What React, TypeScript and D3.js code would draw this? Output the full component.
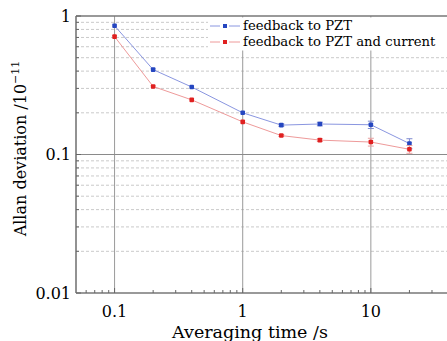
import React, { useEffect, useRef } from 'react';
import * as d3 from 'd3';

const times = [0.1, 0.2, 0.4, 1, 2, 4, 10, 20];
const pztValues = [0.85, 0.41, 0.307, 0.2, 0.163, 0.166, 0.164, 0.12];
const pztErrors = [0, 0, 0, 0, 0.003, 0.005, 0.01, 0.01];
const pztCurrentValues = [0.71, 0.31, 0.248, 0.172, 0.137, 0.127, 0.123, 0.109];
const pztCurrentErrors = [0, 0, 0, 0, 0.002, 0.003, 0.008, 0.007];
const seriesNames = ['feedback to PZT', 'feedback to PZT and current'];
const xTickValues = [0.1, 1, 10];
const xTickLabels = ['0.1', '1', '10'];
const yTickValues = [0.01, 0.1, 1];
const yTickLabels = ['0.01', '0.1', '1'];

const width = 447;
const height = 341;
const margin = { top: 16, right: 0, bottom: 48, left: 76 };
const font = '"DejaVu Serif", serif';

const App = () => {
    const svgRef = useRef(null);

    useEffect(() => {
        const svg = d3.select(svgRef.current);
        svg.selectAll('*').remove();

        const x = d3.scaleLog().domain([0.05, 40]).range([margin.left, 448]);
        const y = d3.scaleLog().domain([0.01, 1]).range([height - margin.bottom, margin.top]);
        const x0 = margin.left, x1 = width + 2;
        const y0 = height - margin.bottom, y1 = margin.top;

        // minor horizontal dashed grid
        const minorY = [];
        [0.01, 0.1].forEach(d => { for (let k = 2; k <= 9; k++) minorY.push(d * k); });
        svg.append('g')
            .selectAll('line')
            .data(minorY)
            .join('line')
            .attr('x1', x0).attr('x2', x1)
            .attr('y1', d => y(d)).attr('y2', d => y(d))
            .attr('stroke', '#cacaca')
            .attr('stroke-width', 1)
            .attr('stroke-dasharray', '3,2');

        // major grid
        svg.append('g')
            .selectAll('line')
            .data(xTickValues)
            .join('line')
            .attr('x1', d => x(d)).attr('x2', d => x(d))
            .attr('y1', y0).attr('y2', y1)
            .attr('stroke', '#9a9a9a')
            .attr('stroke-width', 1);
        svg.append('line')
            .attr('x1', x0).attr('x2', x1)
            .attr('y1', y(0.1)).attr('y2', y(0.1))
            .attr('stroke', '#8a8a8a')
            .attr('stroke-width', 1.2);

        // legend box (covers grid)
        svg.append('rect')
            .attr('x', 208).attr('y', y1 + 1.5)
            .attr('width', width - 208).attr('height', 33)
            .attr('fill', '#fff');

        // frame
        svg.append('line').attr('x1', x0).attr('x2', x1).attr('y1', y1).attr('y2', y1)
            .attr('stroke', '#777').attr('stroke-width', 1.6);
        svg.append('line').attr('x1', x0).attr('x2', x1).attr('y1', y0).attr('y2', y0)
            .attr('stroke', '#777').attr('stroke-width', 1.6);
        svg.append('line').attr('x1', x0).attr('x2', x0).attr('y1', y0).attr('y2', y1)
            .attr('stroke', '#777').attr('stroke-width', 1.6);

        // ticks
        const minorX = [];
        [0.01, 0.1, 1, 10].forEach(d => { for (let k = 1; k <= 9; k++) { const v = d * k; if (v > 0.05 && v < 40) minorX.push(v); } });
        svg.append('g')
            .selectAll('line')
            .data(minorX)
            .join('line')
            .attr('x1', d => x(d)).attr('x2', d => x(d))
            .attr('y1', y0).attr('y2', d => y0 - (xTickValues.includes(d) ? 5 : 3))
            .attr('stroke', '#666');
        svg.append('g')
            .selectAll('line')
            .data(minorY.concat(yTickValues))
            .join('line')
            .attr('x1', x0).attr('x2', d => x0 + (yTickValues.includes(d) ? 5 : 3))
            .attr('y1', d => y(d)).attr('y2', d => y(d))
            .attr('stroke', '#666');

        // tick labels
        svg.append('g')
            .selectAll('text')
            .data(xTickValues)
            .join('text')
            .attr('x', d => x(d))
            .attr('y', y0 + 24)
            .attr('text-anchor', 'middle')
            .style('font', `16px ${font}`)
            .text((d, i) => xTickLabels[i]);
        svg.append('g')
            .selectAll('text')
            .data(yTickValues)
            .join('text')
            .attr('x', x0 - 5)
            .attr('y', d => y(d))
            .attr('dy', '0.35em')
            .attr('text-anchor', 'end')
            .style('font', `16px ${font}`)
            .text((d, i) => yTickLabels[i]);

        // axis titles
        svg.append('text')
            .attr('x', 250).attr('y', height - 3)
            .attr('text-anchor', 'middle')
            .style('font', `17.5px ${font}`)
            .text('Averaging time /s');
        const yt = svg.append('text')
            .attr('transform', `translate(26,${(y0 + y1) / 2 - 6}) rotate(-90)`)
            .attr('text-anchor', 'middle')
            .style('font', `16px ${font}`);
        yt.append('tspan').text('Allan deviation /10');
        yt.append('tspan').attr('dy', -7).style('font-size', '11px').text('\u221211');

        const series = [
            { values: pztValues, errors: pztErrors, line: '#8a96e0', mark: '#2546c0', err: '#7f8bd0' },
            { values: pztCurrentValues, errors: pztCurrentErrors, line: '#ee9a9a', mark: '#e02020', err: '#e8a0a0' }
        ];

        series.forEach(s => {
            const pts = times.map((t, i) => ({ t, v: s.values[i], e: s.errors[i] }));
            svg.append('path')
                .datum(pts)
                .attr('fill', 'none')
                .attr('stroke', s.line)
                .attr('stroke-width', 1)
                .attr('d', d3.line().x(d => x(d.t)).y(d => y(d.v)));
            const eb = svg.append('g').selectAll('g').data(pts.filter(d => d.e > 0)).join('g');
            eb.append('line')
                .attr('x1', d => x(d.t)).attr('x2', d => x(d.t))
                .attr('y1', d => y(d.v - d.e)).attr('y2', d => y(d.v + d.e))
                .attr('stroke', s.err);
            eb.append('line')
                .attr('x1', d => x(d.t) - 3).attr('x2', d => x(d.t) + 3)
                .attr('y1', d => y(d.v + d.e)).attr('y2', d => y(d.v + d.e))
                .attr('stroke', s.err);
            eb.append('line')
                .attr('x1', d => x(d.t) - 3).attr('x2', d => x(d.t) + 3)
                .attr('y1', d => y(d.v - d.e)).attr('y2', d => y(d.v - d.e))
                .attr('stroke', s.err);
            svg.append('g')
                .selectAll('rect')
                .data(pts)
                .join('rect')
                .attr('x', d => x(d.t) - 2.3)
                .attr('y', d => y(d.v) - 2.3)
                .attr('width', 4.6).attr('height', 4.6)
                .attr('rx', 1)
                .attr('fill', s.mark);
        });

        // legend
        const lg = svg.append('g')
            .selectAll('g')
            .data(seriesNames)
            .join('g')
            .attr('transform', (d, i) => `translate(210,${26 + i * 16})`);
        lg.append('line').attr('x1', 0).attr('x2', 10).attr('stroke', (d, i) => series[i].line);
        lg.append('line').attr('x1', 19).attr('x2', 30).attr('stroke', (d, i) => series[i].line);
        lg.append('rect').attr('x', 13).attr('y', -2).attr('width', 4).attr('height', 4)
            .attr('fill', (d, i) => series[i].mark);
        lg.append('text')
            .attr('x', 33).attr('dy', '0.32em')
            .style('font', `13.2px ${font}`)
            .text(d => d);
    }, []);

    return (
        <svg ref={svgRef} width={width} height={height}
            style={{ position: 'absolute', left: 0, top: 0, background: '#fff' }}></svg>
    );
};

export default App;
